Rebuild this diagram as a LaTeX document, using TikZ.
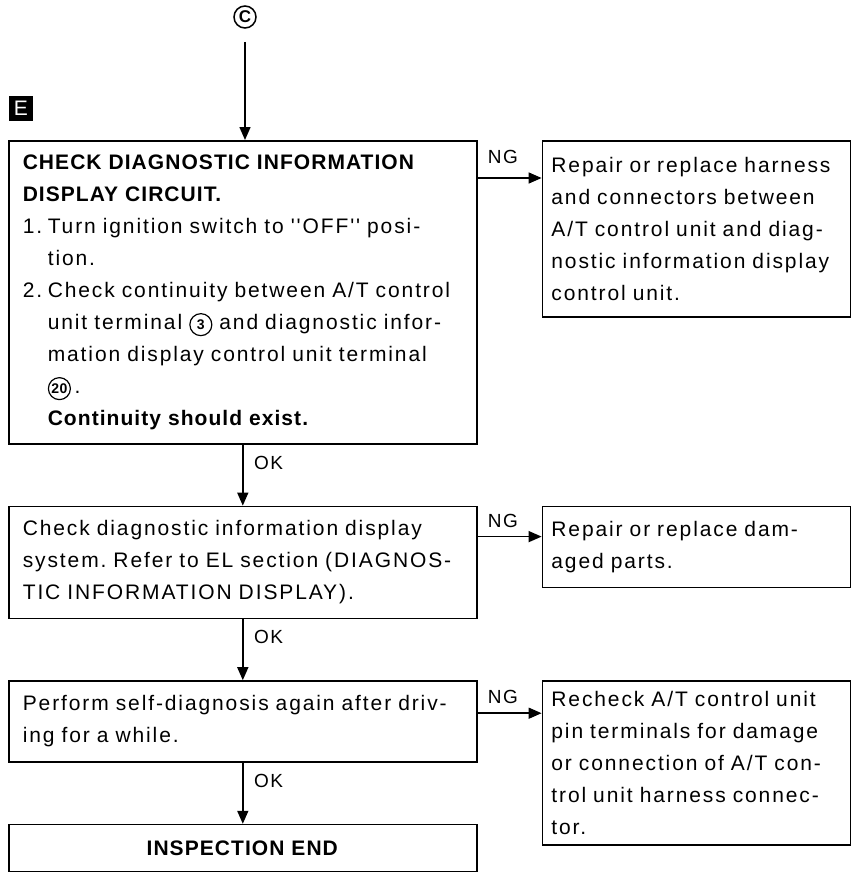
\documentclass[tikz,border=0pt]{standalone}
\usepackage{fontspec}
\newfontfamily\manfont{Liberation Sans}[LetterSpace=9, BoldFeatures={LetterSpace=5}]
\usetikzlibrary{arrows.meta,positioning}
\frenchspacing

\newcommand{\cnum}[1]{\tikz[baseline=(cn.base)]\node[circle,draw,line width=1.2pt,inner sep=0pt,minimum size=22pt,font=\manfont\bfseries\fontsize{14}{14}\selectfont] (cn) {#1};}
\newcommand{\itm}[1]{\makebox[25pt][l]{#1}}
\newcommand{\ind}{\hspace*{25pt}}

\begin{document}
\begin{tikzpicture}[
  x=1pt, y=1pt,
  node distance=61pt,
  every node/.style={font=\manfont\fontsize{21}{32}\selectfont},
  box/.style={draw, line width=1.6pt, align=left, inner xsep=14pt, inner ysep=0pt, text width=440pt, anchor=north west},
  sidebox/.style={box, text width=290pt, inner xsep=9pt},
  lbl/.style={font=\manfont\fontsize{19}{19}\selectfont, inner sep=0pt},
  arrow/.style={-{Triangle[length=13pt, width=11pt]}, line width=1.5pt}
]
\useasboundingbox (0,0) rectangle (855,-873);

\node[circle, draw, line width=1.5pt, inner sep=0pt, minimum size=22pt, font=\manfont\bfseries\fontsize{17}{17}\selectfont] (cC) at (245,-17) {C};
\node[fill=black, text=white, minimum width=24pt, minimum height=25pt, inner sep=0pt] (tagE) at (21,-108) {E};

\node[box, minimum height=303pt] (check) at (8,-140) {\textbf{CHECK DIAGNOSTIC INFORMATION}\\
  \textbf{DISPLAY CIRCUIT.}\\
  \itm{1.}Turn ignition switch to ''OFF'' posi-\\
  \ind tion.\\
  \itm{2.}Check continuity between A/T control\\
  \ind unit terminal \cnum{3} and diagnostic infor-\\
  \ind mation display control unit terminal\\
  \ind\cnum{20}\,.\\
  \ind\textbf{Continuity should exist.}};
\node[box, minimum height=112pt, below=of check] (refer) {Check diagnostic information display\\
  system. Refer to EL section (DIAGNOS-\\
  TIC INFORMATION DISPLAY).};
\node[box, minimum height=81pt, below=of refer] (perform) {Perform self-diagnosis again after driv-\\
  ing for a while.};
\node[box, align=center, minimum height=47pt, below=of perform] (finish) {\textbf{INSPECTION END}};

\node[sidebox, minimum height=176pt, right=64pt of check.north east, anchor=north west] (harness) {Repair or replace harness\\
  and connectors between\\
  A/T control unit and diag-\\
  nostic information display\\
  control unit.};
\node[sidebox, minimum height=81pt, right=64pt of refer.north east, anchor=north west] (damaged) {Repair or replace dam-\\
  aged parts.};
\node[sidebox, minimum height=164pt, right=64pt of perform.north east, anchor=north west] (recheck) {Recheck A/T control unit\\
  pin terminals for damage\\
  or connection of A/T con-\\
  trol unit harness connec-\\
  tor.};

% OK path
\draw[arrow, shorten <=13pt] (cC) -- (cC |- check.north);
\draw[arrow] (check) -- (refer);
\draw[arrow] (refer) -- (perform);
\draw[arrow] (perform) -- (finish);
\node[lbl, anchor=west] (ok1) at ([xshift=11pt,yshift=-18pt]check.south) {OK};
\node[lbl, anchor=west] (ok2) at ([xshift=11pt,yshift=-18pt]refer.south) {OK};
\node[lbl, anchor=west] (ok3) at ([xshift=11pt,yshift=-18pt]perform.south) {OK};

% NG branches
\draw[arrow] ([yshift=-38pt]check.north east) -- ([yshift=-38pt]harness.north west);
\draw[arrow] ([yshift=-31pt]refer.north east) -- ([yshift=-31pt]damaged.north west);
\draw[arrow] ([yshift=-33pt]perform.north east) -- ([yshift=-33pt]recheck.north west);
\node[lbl, anchor=west] (ng1) at ([xshift=10pt,yshift=-17pt]check.north east) {NG};
\node[lbl, anchor=west] (ng2) at ([xshift=10pt,yshift=-15pt]refer.north east) {NG};
\node[lbl, anchor=west] (ng3) at ([xshift=10pt,yshift=-17pt]perform.north east) {NG};
\end{tikzpicture}
\end{document}
